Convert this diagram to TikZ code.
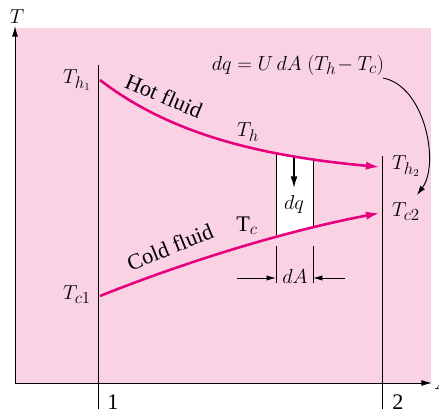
\documentclass[tikz,border=0pt]{standalone}
\usepackage{fontspec}
\setmainfont{Liberation Serif}
\usepackage{tikz}
\usetikzlibrary{arrows.meta}

\definecolor{bgpink}{RGB}{249,211,228}
\definecolor{fluidred}{RGB}{230,0,126}

\begin{document}
\begin{tikzpicture}[x=0.03cm,y=0.03cm,
  every node/.style={font=\fontsize{19}{22}\selectfont,inner sep=1pt},
  fluid/.style={fluidred,line width=2.2pt,-{Latex[length=12pt,width=7pt]}},
  thin line/.style={line width=0.8pt},
  small arrow/.style={line width=0.8pt,-{Latex[length=8pt,width=4.5pt]}}]
\useasboundingbox (0,0) rectangle (439,414);

% Background
\fill[bgpink] (15,31) rectangle (431,386);

% Axes
\coordinate (O) at (15,31);
\draw[thin line,-{Latex[length=9pt,width=5pt]}] (O) -- (15,388) coordinate (ytip);
\draw[thin line,-{Latex[length=9pt,width=5pt]}] (O) -- (432,31) coordinate (xtip);
\node[anchor=south] (Tax) at (17,389) {$T$};
\node[anchor=west] (Aax) at (433,31) {$A$};

% Stations 1 and 2
\draw[thin line] (98,349) -- (98,5);
\draw[thin line] (382,258) -- (382,5);
\node (one) at (113,12) {1};
\node (two) at (398,12) {2};

% Element dA
\begin{scope}
\clip (276,0) rectangle (313,400);
\fill[white] (100,334) .. controls (170,280) and (260,258) .. (380,247)
  -- (380,201) .. controls (280,182) and (180,150) .. (100,118) -- cycle;
\end{scope}
\draw[thin line] (276,260) -- (276,179);
\draw[thin line] (313,255) -- (313,188);
\draw[thin line] (276,168) -- (276,131);
\draw[thin line] (313,168) -- (313,131);
\node (dA) at (295,138) {$dA$};
\draw[small arrow] (237,136) -- (276,136);
\draw[small arrow] (345,136) -- (313,136);
\node (dq) at (294,210) {$dq$};
\draw[line width=1.3pt,-{Latex[length=10pt,width=6pt]}] (294,257) -- (294,226);

% Hot and cold fluid
\draw[fluid] (100,334) .. controls (170,280) and (260,258) .. (380,247);
\draw[fluid] (100,118) .. controls (180,150) and (280,182) .. (380,201);
\node[rotate=-23] (hot) at (164,318) {Hot fluid};
\node[rotate=22] (cold) at (170,167) {Cold fluid};
\node (Th) at (248,282) {$T_h$};
\node (Tc) at (247,188) {$\mathrm{T}_c$};

% End temperatures
\node (Th1) at (77,334) {$T_{h_1}$};
\node (Tc1) at (77,119) {$T_{c1}$};
\node (Th2) at (406,248) {$T_{h_2}$};
\node (Tc2) at (406,202) {$T_{c2}$};

% Rate equation
\node (eq) at (298,349) {$dq = U\,dA\;(T_h\!-T_c)$};
\draw[thin line,-{Latex[length=8pt,width=5pt]}] (383,336)
  .. controls (425,328) and (440,250) .. (417,219);
\end{tikzpicture}
\end{document}
